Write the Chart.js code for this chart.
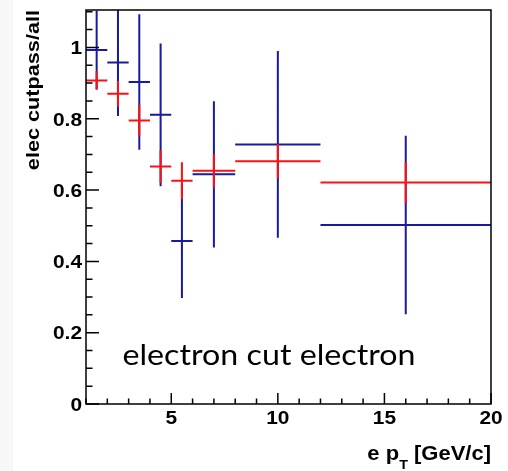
<!DOCTYPE html>
<html>
<head>
<meta charset="utf-8">
<script src="https://cdn.jsdelivr.net/npm/chart.js@4"></script>
<style>
  html, body { margin: 0; padding: 0; background: #fff; }
  #c { display: block; }
</style>
</head>
<body>
<canvas id="c" width="508" height="471"></canvas>
<script>
// pT bins [GeV/c]
const binLow  = [1, 2, 3, 4, 5, 6, 8, 12];
const binHigh = [2, 3, 4, 5, 6, 8, 12, 20];

// red series: efficiency and error
const redEff = [0.907, 0.870, 0.795, 0.666, 0.626, 0.654, 0.681, 0.621];
const redErr = [0.026, 0.036, 0.044, 0.046, 0.052, 0.047, 0.048, 0.058];

// blue series: efficiency and error
const blueEff = [0.993, 0.958, 0.903, 0.811, 0.457, 0.644, 0.728, 0.502];
const blueErr = [0.110, 0.150, 0.190, 0.200, 0.160, 0.205, 0.262, 0.250];

const xTicks = [5, 10, 15, 20];
const yTicks = [0, 0.2, 0.4, 0.6, 0.8, 1];
const xMinor = [1, 2, 3, 4, 6, 7, 8, 9, 11, 12, 13, 14, 16, 17, 18, 19];
const yMinor = [0.05, 0.1, 0.15, 0.25, 0.3, 0.35, 0.45, 0.5, 0.55, 0.65, 0.7, 0.75, 0.85, 0.9, 0.95, 1.05, 1.1];

const annotation = 'electron cut electron';

// build error-cross segments (horizontal bin width + vertical error), broken by nulls
function crosses(eff, err) {
    const pts = [];
    for (let i = 0; i < eff.length; i++) {
        const mid = (binLow[i] + binHigh[i]) / 2;
        pts.push({ x: binLow[i], y: eff[i] }, { x: binHigh[i], y: eff[i] }, { x: mid, y: null });
        pts.push({ x: mid, y: eff[i] - err[i] }, { x: mid, y: eff[i] + err[i] }, { x: mid, y: null });
    }
    return pts;
}

const blueColor = '#1a1a9e';
const redColor = '#ff1010';
const boldFont = '"Liberation Sans", Arial, sans-serif';

function stretchText(ctx, text, x, y, align, sx) {
    ctx.save();
    ctx.translate(x, y);
    ctx.scale(sx, 1);
    ctx.textAlign = align;
    ctx.fillText(text, 0, 0);
    ctx.restore();
}

const rootStyle = {
    id: 'rootStyle',
    beforeDraw(chart) {
        const ctx = chart.ctx;
        ctx.save();
        ctx.fillStyle = '#ffffff';
        ctx.fillRect(0, 0, chart.width, chart.height);
        ctx.fillStyle = '#f7f7f7';
        ctx.fillRect(0, 0, 13, chart.height);
        ctx.restore();
    },
    afterDraw(chart) {
        const ctx = chart.ctx;
        const a = chart.chartArea;
        const xs = chart.scales.x, ys = chart.scales.y;
        ctx.save();
        ctx.strokeStyle = '#000';
        ctx.lineWidth = 1.5;
        ctx.strokeRect(a.left, a.top, a.right - a.left, a.bottom - a.top);

        // ticks inside the frame
        ctx.beginPath();
        yTicks.forEach(v => { const p = ys.getPixelForValue(v); ctx.moveTo(a.left, p); ctx.lineTo(a.left + 13, p); });
        yMinor.forEach(v => { const p = ys.getPixelForValue(v); ctx.moveTo(a.left, p); ctx.lineTo(a.left + 6.5, p); });
        xTicks.forEach(v => { const p = xs.getPixelForValue(v); ctx.moveTo(p, a.bottom); ctx.lineTo(p, a.bottom - 11); });
        xMinor.forEach(v => { const p = xs.getPixelForValue(v); ctx.moveTo(p, a.bottom); ctx.lineTo(p, a.bottom - 5.5); });
        ctx.stroke();

        // tick labels
        ctx.fillStyle = '#000';
        ctx.font = 'bold 19px ' + boldFont;
        ctx.textBaseline = 'alphabetic';
        yTicks.forEach(v => {
            stretchText(ctx, String(v), a.left - 4, ys.getPixelForValue(v) + 6.8, 'right', 1.1);
        });
        xTicks.forEach(v => {
            stretchText(ctx, String(v), xs.getPixelForValue(v), a.bottom + 19.5, 'center', 1.1);
        });

        // y title, rotated and aligned to the top end
        ctx.save();
        ctx.translate(38.5, a.top);
        ctx.rotate(-Math.PI / 2);
        ctx.scale(1.14, 1);
        ctx.font = 'bold 19px ' + boldFont;
        ctx.textAlign = 'right';
        ctx.fillText('elec cutpass/all', 0, 0);
        ctx.restore();

        // x title with subscript T, aligned to the right end
        const sx = 1.1;
        ctx.font = 'bold 20px ' + boldFont;
        const w1 = ctx.measureText('e p').width * sx;
        const w3 = ctx.measureText(' [GeV/c]').width * sx;
        ctx.font = 'bold 13px ' + boldFont;
        const w2 = ctx.measureText('T').width * sx;
        const x0 = a.right - (w1 + w2 + w3);
        const base = 459.5;
        ctx.font = 'bold 20px ' + boldFont;
        stretchText(ctx, 'e p', x0, base, 'left', sx);
        ctx.font = 'bold 13px ' + boldFont;
        stretchText(ctx, 'T', x0 + w1, base + 9.5, 'left', sx);
        ctx.font = 'bold 20px ' + boldFont;
        stretchText(ctx, ' [GeV/c]', x0 + w1 + w2, base, 'left', sx);

        // annotation text
        ctx.font = '29px Lato, "Open Sans", sans-serif';
        const tw = ctx.measureText(annotation).width;
        stretchText(ctx, annotation, 122.5, 365, 'left', 293 / tw);
        ctx.restore();
    }
};

const ctx = document.getElementById('c');
new Chart(ctx, {
    type: 'line',
    data: {
        datasets: [
            {
                label: 'red',
                data: crosses(redEff, redErr),
                borderColor: redColor,
                borderWidth: 2,
                pointRadius: 0,
                spanGaps: false,
                tension: 0,
                clip: 0
            },
            {
                label: 'blue',
                data: crosses(blueEff, blueErr),
                borderColor: blueColor,
                borderWidth: 2,
                pointRadius: 0,
                spanGaps: false,
                tension: 0,
                clip: 0
            }
        ]
    },
    options: {
        responsive: false,
        animation: false,
        devicePixelRatio: 1,
        layout: { padding: { top: 10, right: 17, left: 0, bottom: 0 } },
        plugins: {
            legend: { display: false },
            tooltip: { enabled: false }
        },
        scales: {
            x: {
                type: 'linear',
                min: 1,
                max: 20,
                grid: { display: false },
                border: { display: false },
                ticks: { display: false },
                afterFit: s => { s.height = 67; }
            },
            y: {
                type: 'linear',
                min: 0,
                max: 1.105,
                grid: { display: false },
                border: { display: false },
                ticks: { display: false },
                afterFit: s => { s.width = 86; }
            }
        }
    },
    plugins: [rootStyle]
});
</script>
</body>
</html>
